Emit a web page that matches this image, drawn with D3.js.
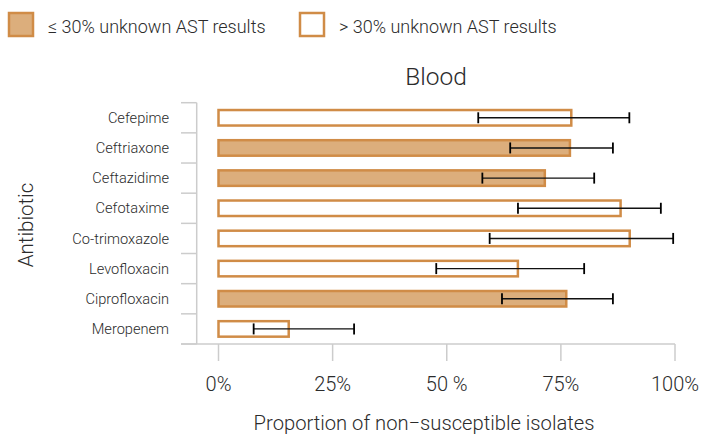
<!DOCTYPE html>
<html><head><meta charset="utf-8">
<script src="https://cdn.jsdelivr.net/npm/d3@7"></script>
<style>body{margin:0;background:#fff}svg{display:block;font-family:Roboto,"DejaVu Sans",sans-serif;font-weight:300}</style>
</head><body><svg id="c" width="702" height="435"></svg>
<script>
const categories = ["Cefepime","Ceftriaxone","Ceftazidime","Cefotaxime","Co-trimoxazole","Levofloxacin","Ciprofloxacin","Meropenem"];
const values = [77.5, 77.2, 71.7, 88.3, 90.3, 65.8, 76.4, 15.6];
const lower = [56.9, 63.9, 57.8, 65.6, 59.4, 47.7, 62.1, 7.7];
const upper = [90.0, 86.4, 82.3, 96.9, 99.6, 80.1, 86.4, 29.7];
const lowUnknown = [false, true, true, false, false, false, true, false];
const tickValues = [0, 25, 50, 75, 100];
const tickLabels = ["0%", "25%", "50 %", "75%", "100%"];
const legendLabels = ["\u2264 30% unknown AST results", "> 30% unknown AST results"];

const stroke = "#D08C47", fill = "#DCAE7C", grid = "#cccccc", txt = "#2b2b2b";
const svg = d3.select("#c");
const x = d3.scaleLinear().domain([0, 100]).range([218.5, 675]);
const y = d3.scaleBand().domain(categories).range([102.7, 344]).padding(0);
const axisX = 196.7;

// legend
const lg = svg.append("g");
[[9, legendLabels[0], fill], [300, legendLabels[1], "#fff"]].forEach(([lx, t, f]) => {
  lg.append("rect").attr("x", lx).attr("y", 13).attr("width", 24).attr("height", 23)
    .attr("fill", f).attr("stroke", stroke).attr("stroke-width", 2.5);
  lg.append("text").attr("x", lx + 39).attr("y", 32.5).attr("font-size", 18).attr("fill", txt).text(t);
});

// title
svg.append("text").attr("x", 436).attr("y", 84.5).attr("text-anchor", "middle")
  .attr("font-size", 24.5).attr("fill", txt).text("Blood");

// y axis line + band ticks
const g = svg.append("g");
g.append("line").attr("x1", axisX).attr("x2", axisX).attr("y1", y.range()[0]).attr("y2", y.range()[1])
  .attr("stroke", grid).attr("stroke-width", 1.5);
const bounds = categories.map(c => y(c)).concat([y.range()[1]]);
g.selectAll(".yt").data(bounds).join("line")
  .attr("x1", 181).attr("x2", axisX).attr("y1", d => d).attr("y2", d => d)
  .attr("stroke", grid).attr("stroke-width", 1.5);
// x axis line + ticks
g.append("line").attr("x1", 181).attr("x2", x(100)).attr("y1", 344).attr("y2", 344)
  .attr("stroke", grid).attr("stroke-width", 1.5);
g.selectAll(".xt").data(tickValues).join("line")
  .attr("x1", d => x(d)).attr("x2", d => x(d)).attr("y1", 344).attr("y2", 361)
  .attr("stroke", grid).attr("stroke-width", 1.5);
g.selectAll(".xl").data(tickValues).join("text")
  .attr("x", d => x(d)).attr("y", 391).attr("text-anchor", "middle")
  .attr("font-size", 20).attr("fill", txt).text((d, i) => tickLabels[i]);
// category labels
g.selectAll(".yl").data(categories).join("text")
  .attr("x", 169).attr("y", d => y(d) + y.bandwidth() / 2).attr("dy", "0.35em")
  .attr("text-anchor", "end").attr("font-size", 14.6).attr("fill", txt).text(d => d);

// axis titles
svg.append("text").attr("x", 424).attr("y", 430).attr("text-anchor", "middle")
  .attr("font-size", 20.2).attr("fill", txt).text("Proportion of non\u2212susceptible isolates");
svg.append("text").attr("transform", "translate(33,225) rotate(-90)").attr("text-anchor", "middle")
  .attr("font-size", 20.5).attr("fill", txt).text("Antibiotic");

// bars
const barH = 15.5;
const data = categories.map((c, i) => ({c, v: values[i], lo: lower[i], hi: upper[i], f: lowUnknown[i]}));
svg.selectAll(".bar").data(data).join("rect")
  .attr("x", x(0)).attr("y", d => y(d.c) + y.bandwidth() / 2 - barH / 2)
  .attr("width", d => x(d.v) - x(0) - 1).attr("height", barH)
  .attr("fill", d => d.f ? fill : "#fff").attr("stroke", stroke).attr("stroke-width", 2.5);

// error bars
const eb = svg.selectAll(".eb").data(data).join("g");
eb.append("line").attr("x1", d => x(d.lo)).attr("x2", d => x(d.hi))
  .attr("y1", d => y(d.c) + y.bandwidth() / 2).attr("y2", d => y(d.c) + y.bandwidth() / 2)
  .attr("stroke", "#111").attr("stroke-width", 1.4);
["lo", "hi"].forEach(k => {
  eb.append("line").attr("x1", d => x(d[k])).attr("x2", d => x(d[k]))
    .attr("y1", d => y(d.c) + y.bandwidth() / 2 - 5.5).attr("y2", d => y(d.c) + y.bandwidth() / 2 + 5.5)
    .attr("stroke", "#000").attr("stroke-width", 1.8);
});
</script></body></html>
